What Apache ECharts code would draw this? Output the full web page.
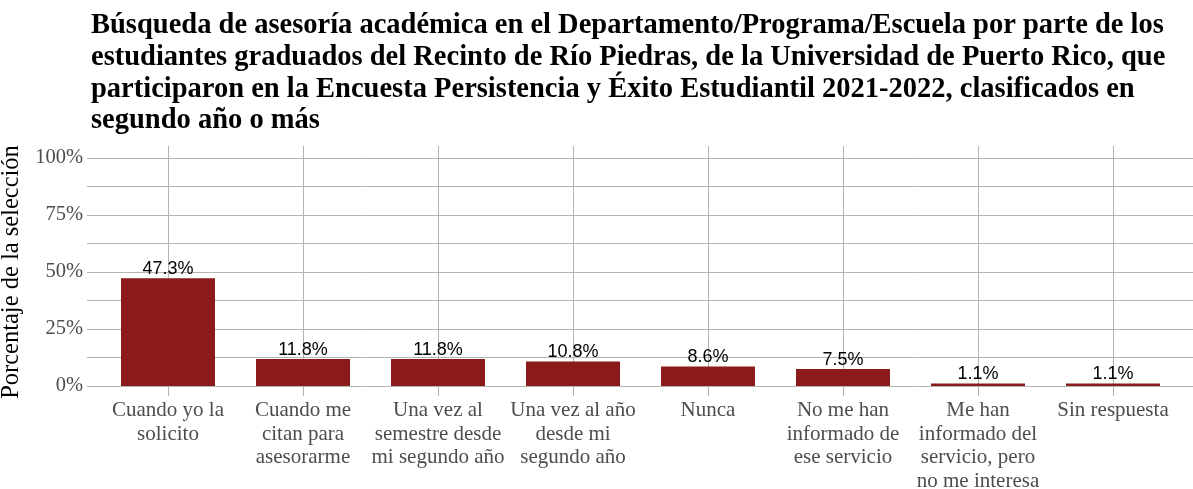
<!DOCTYPE html>
<html>
<head>
<meta charset="utf-8">
<script src="https://cdn.jsdelivr.net/npm/echarts@6/dist/echarts.min.js"></script>
<style>
  html, body { margin: 0; padding: 0; background: #fff; }
  #chart { width: 1193px; height: 489px; }
</style>
</head>
<body>
<div id="chart"></div>
<script>
// datos
const categorias = [
  'Cuando yo la\nsolicito',
  'Cuando me\ncitan para\nasesorarme',
  'Una vez al\nsemestre desde\nmi segundo año',
  'Una vez al año\ndesde mi\nsegundo año',
  'Nunca',
  'No me han\ninformado de\nese servicio',
  'Me han\ninformado del\nservicio, pero\nno me interesa',
  'Sin respuesta'
]
const porcentajes = [47.3, 11.8, 11.8, 10.8, 8.6, 7.5, 1.1, 1.1]
const ticksY = [0, 25, 50, 75, 100]

const titulo = 'Búsqueda de asesoría académica en el Departamento/Programa/Escuela por parte de los\n' +
  'estudiantes graduados del Recinto de Río Piedras, de la Universidad de Puerto Rico, que\n' +
  'participaron en la Encuesta Persistencia y Éxito Estudiantil 2021-2022, clasificados en\n' +
  'segundo año o más'

const serif = '"Liberation Serif", "DejaVu Serif", serif'
const sans = '"Liberation Sans", Arial, sans-serif'
const gris = '#4d4d4d'
const lineaGrid = '#b3b3b3'

const chart = echarts.init(document.getElementById('chart'))

chart.setOption({
  animation: false,
  backgroundColor: '#fff',
  title: {
    text: titulo,
    left: 86,
    top: 5,
    textStyle: {
      fontFamily: serif,
      fontWeight: 'bold',
      fontSize: 28.5,
      lineHeight: 31.7,
      color: '#000'
    }
  },
  grid: [
    // fondo: líneas horizontales y etiquetas del eje Y
    { left: 87, right: 0, top: 158, bottom: 103, outerBoundsMode: 'none' },
    // barras
    { left: 100.5, width: 1080, top: 158, bottom: 103, outerBoundsMode: 'none' },
    // líneas verticales en el centro de cada categoría
    { left: 168, width: 945, top: 146, bottom: 93, outerBoundsMode: 'none' }
  ],
  xAxis: [
    { gridIndex: 0, type: 'value', show: false },
    {
      gridIndex: 1,
      type: 'category',
      data: categorias,
      axisLine: { show: false },
      axisTick: { show: false },
      splitLine: { show: false },
      axisLabel: {
        margin: 13,
        fontFamily: serif,
        fontSize: 21,
        lineHeight: 23.5,
        color: gris,
        interval: 0
      }
    },
    {
      gridIndex: 2,
      type: 'category',
      boundaryGap: false,
      data: categorias,
      axisLine: { show: false },
      axisTick: { show: false },
      axisLabel: { show: false },
      splitLine: { show: true, lineStyle: { color: lineaGrid, width: 1 } }
    }
  ],
  yAxis: [
    {
      gridIndex: 0,
      type: 'value',
      min: ticksY[0],
      max: ticksY[ticksY.length - 1],
      interval: 25,
      name: 'Porcentaje de la selección',
      nameLocation: 'middle',
      nameGap: 52,
      nameTextStyle: { fontFamily: serif, fontSize: 24.5, color: '#000' },
      axisLine: { show: false },
      axisTick: { show: false },
      axisLabel: {
        formatter: '{value}%',
        fontFamily: serif,
        fontSize: 20.5,
        color: gris,
        margin: 4
      },
      splitLine: { show: true, lineStyle: { color: lineaGrid, width: 1 } },
      minorTick: { show: false, splitNumber: 2 },
      minorSplitLine: { show: true, lineStyle: { color: lineaGrid, width: 1 } }
    },
    { gridIndex: 1, type: 'value', min: 0, max: 100, show: false },
    { gridIndex: 2, type: 'value', min: 0, max: 1, show: false }
  ],
  series: [
    {
      type: 'bar',
      xAxisIndex: 1,
      yAxisIndex: 1,
      data: porcentajes,
      barWidth: 94,
      itemStyle: { color: '#8b1a1a' },
      label: {
        show: true,
        position: 'top',
        distance: 0,
        formatter: (p) => p.value.toFixed(1) + '%',
        fontFamily: sans,
        fontSize: 18,
        color: '#000'
      },
      z: 3
    }
  ]
})

window.addEventListener('resize', () => chart.resize())
</script>
</body>
</html>
